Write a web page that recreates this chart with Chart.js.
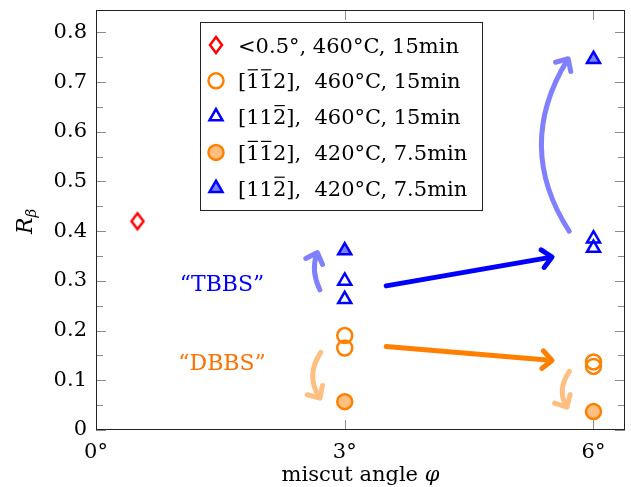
<!DOCTYPE html>
<html>
<head>
<meta charset="utf-8">
<script src="https://cdn.jsdelivr.net/npm/chart.js@4.4.0/dist/chart.umd.min.js"></script>
<style>
  html, body { margin: 0; padding: 0; background: #fff; }
  #wrap { width: 631px; height: 487px; }
</style>
</head>
<body>
<div id="wrap"><canvas id="rbetaChart" width="631" height="487"></canvas></div>
<script>
// miscut angle (deg) / R_beta for each sample set
const flatX = [0.5];
const flatY = [0.42];
const dbbs460X = [3, 3, 6, 6];
const dbbs460Y = [0.19, 0.165, 0.137, 0.128];
const tbbs460X = [3, 3, 6, 6];
const tbbs460Y = [0.3, 0.263, 0.385, 0.366];
const dbbs420X = [3, 6];
const dbbs420Y = [0.057, 0.037];
const tbbs420X = [3, 6];
const tbbs420Y = [0.361, 0.746];

const xTicks = [0, 3, 6];
const yTicks = [0, 0.1, 0.2, 0.3, 0.4, 0.5, 0.6, 0.7, 0.8];
const yMinorTicks = [0.05, 0.15, 0.25, 0.35, 0.45, 0.55, 0.65, 0.75];

// legend rows: pieces of text, "o" = overlined
const legendRows = [
  [{ t: "<0.5°, 460°C, 15min" }],
  [{ t: "[" }, { t: "1", o: true }, { t: "1", o: true }, { t: "2],  460°C, 15min" }],
  [{ t: "[11" }, { t: "2", o: true }, { t: "],  460°C, 15min" }],
  [{ t: "[" }, { t: "1", o: true }, { t: "1", o: true }, { t: "2],  420°C, 7.5min" }],
  [{ t: "[11" }, { t: "2", o: true }, { t: "],  420°C, 7.5min" }],
];

// arrows in data units: from, optional bend control, to
const arrowPaths = [
  { from: [3.5, 0.29], to: [5.5, 0.348], color: "#0000ff" },
  { from: [3.5, 0.168], to: [5.5, 0.14], color: "#ff8000" },
  { from: [2.7, 0.282], ctrl: [2.59, 0.32], to: [2.67, 0.357], color: "#8080ff" },
  { from: [2.71, 0.156], ctrl: [2.53, 0.11], to: [2.7, 0.064], color: "#ffbf80" },
  { from: [5.706, 0.4], ctrl: [5.05, 0.57], to: [5.694, 0.747], color: "#8080ff" },
  { from: [5.71, 0.118], ctrl: [5.56, 0.082], to: [5.68, 0.046], color: "#ffbf80" },
];
const noteLabels = [
  { text: "“TBBS”", at: [1.52, 0.279], color: "#0000ff" },
  { text: "“DBBS”", at: [1.52, 0.12], color: "#ff7000" },
];

const SERIF = "'DejaVu Serif', 'Liberation Serif', serif";

// tall red diamond marker
function makeDiamond() {
  const c = document.createElement("canvas");
  c.width = 18;
  c.height = 22;
  const g = c.getContext("2d");
  g.strokeStyle = "#ff0000";
  g.lineWidth = 2.5;
  g.beginPath();
  g.moveTo(9, 3);
  g.lineTo(15, 11);
  g.lineTo(9, 19);
  g.lineTo(3, 11);
  g.closePath();
  g.stroke();
  return c;
}
const diamond = makeDiamond();

function pts(xs, ys) {
  return xs.map((x, i) => ({ x: x, y: ys[i] }));
}

const markerStyles = [
  { pointStyle: diamond, radius: 8, borderWidth: 0, borderColor: "#ff0000", backgroundColor: "rgba(0,0,0,0)" },
  { pointStyle: "circle", radius: 7.5, borderWidth: 2.5, borderColor: "#ff8000", backgroundColor: "rgba(0,0,0,0)" },
  { pointStyle: "triangle", radius: 7.5, borderWidth: 2.5, borderColor: "#0000ff", backgroundColor: "rgba(0,0,0,0)" },
  { pointStyle: "circle", radius: 7.5, borderWidth: 2.5, borderColor: "#ff8000", backgroundColor: "#ffbf80" },
  { pointStyle: "triangle", radius: 7.5, borderWidth: 2.5, borderColor: "#0000ff", backgroundColor: "#8080ff" },
];

function dataset(data, m) {
  return {
    data: data,
    showLine: false,
    pointStyle: m.pointStyle,
    pointRadius: m.radius,
    pointBorderWidth: m.borderWidth,
    pointBorderColor: m.borderColor,
    pointBackgroundColor: m.backgroundColor,
  };
}

function drawArrow(ctx, p0, c, p1, color) {
  const lw = 5;
  const ref = c || p0;
  const ang = Math.atan2(p1.y - ref.y, p1.x - ref.x);
  ctx.save();
  ctx.strokeStyle = color;
  ctx.lineWidth = lw;
  ctx.lineCap = "round";
  ctx.lineJoin = "round";
  const ex = p1.x - Math.cos(ang) * 2;
  const ey = p1.y - Math.sin(ang) * 2;
  ctx.beginPath();
  ctx.moveTo(p0.x, p0.y);
  if (c) ctx.quadraticCurveTo(c.x, c.y, ex, ey);
  else ctx.lineTo(ex, ey);
  ctx.stroke();
  const L = 13, spread = 0.75;
  ctx.beginPath();
  ctx.moveTo(p1.x - L * Math.cos(ang - spread), p1.y - L * Math.sin(ang - spread));
  ctx.lineTo(p1.x, p1.y);
  ctx.lineTo(p1.x - L * Math.cos(ang + spread), p1.y - L * Math.sin(ang + spread));
  ctx.stroke();
  ctx.restore();
}

const framePlugin = {
  id: "frame",
  beforeDatasetsDraw(chart) {
    const { ctx, chartArea: a, scales } = chart;
    ctx.save();
    // inward ticks
    ctx.strokeStyle = "#8c8c8c";
    ctx.lineWidth = 1;
    ctx.beginPath();
    yTicks.forEach((v) => {
      const y = Math.round(scales.y.getPixelForValue(v)) + 0.5;
      ctx.moveTo(a.left, y); ctx.lineTo(a.left + 10, y);
      ctx.moveTo(a.right, y); ctx.lineTo(a.right - 10, y);
    });
    yMinorTicks.forEach((v) => {
      const y = Math.round(scales.y.getPixelForValue(v)) + 0.5;
      ctx.moveTo(a.left, y); ctx.lineTo(a.left + 7, y);
      ctx.moveTo(a.right, y); ctx.lineTo(a.right - 7, y);
    });
    xTicks.forEach((v) => {
      const x = Math.round(scales.x.getPixelForValue(v)) + 0.5;
      ctx.moveTo(x, a.bottom); ctx.lineTo(x, a.bottom - 10);
      ctx.moveTo(x, a.top); ctx.lineTo(x, a.top + 10);
    });
    ctx.stroke();
    // axis box
    ctx.strokeStyle = "#222";
    ctx.strokeRect(a.left + 0.5, a.top + 0.5, a.right - a.left - 1, a.bottom - a.top - 1);

    // annotation arrows and labels
    const px = (p) => ({ x: scales.x.getPixelForValue(p[0]), y: scales.y.getPixelForValue(p[1]) });
    arrowPaths.forEach((ar) => {
      drawArrow(ctx, px(ar.from), ar.ctrl ? px(ar.ctrl) : null, px(ar.to), ar.color);
    });
    ctx.font = "22px " + SERIF;
    ctx.textAlign = "center";
    ctx.textBaseline = "alphabetic";
    noteLabels.forEach((n) => {
      const p = px(n.at);
      ctx.fillStyle = n.color;
      ctx.fillText(n.text, p.x, p.y);
    });

    // axis titles
    ctx.fillStyle = "#000";
    ctx.textAlign = "left";
    const t1 = "miscut angle ";
    ctx.font = "21px " + SERIF;
    const w1 = ctx.measureText(t1).width;
    ctx.font = "italic 21px " + SERIF;
    const w2 = ctx.measureText("φ").width;
    const cx = (a.left + a.right) / 2;
    const x0 = cx - (w1 + w2) / 2;
    ctx.font = "21px " + SERIF;
    ctx.fillText(t1, x0, 481);
    ctx.font = "italic 21px " + SERIF;
    ctx.fillText("φ", x0 + w1, 481);

    ctx.save();
    ctx.translate(32, 234);
    ctx.rotate(-Math.PI / 2);
    ctx.font = "italic 22px " + SERIF;
    ctx.fillText("R", 0, 0);
    const wr = ctx.measureText("R").width;
    ctx.font = "italic 15px " + SERIF;
    ctx.fillText("β", wr, 4);
    ctx.restore();
    ctx.restore();
  },
};

const legendPlugin = {
  id: "boxLegend",
  afterDraw(chart) {
    const ctx = chart.ctx;
    const box = { x: 200, y: 22, w: 283, h: 189 };
    ctx.save();
    ctx.fillStyle = "#fff";
    ctx.fillRect(box.x, box.y, box.w, box.h);
    ctx.strokeStyle = "#222";
    ctx.lineWidth = 1;
    ctx.strokeRect(box.x + 0.5, box.y + 0.5, box.w - 1, box.h - 1);
    legendRows.forEach((row, i) => {
      const cy = 45 + i * 35.8;
      const m = markerStyles[i];
      ctx.fillStyle = m.backgroundColor;
      ctx.strokeStyle = m.borderColor;
      ctx.lineWidth = m.borderWidth;
      Chart.helpers.drawPoint(ctx, {
        pointStyle: m.pointStyle,
        radius: m.radius,
        rotation: 0,
        borderWidth: m.borderWidth,
      }, 216, cy);
      ctx.fillStyle = "#000";
      ctx.strokeStyle = "#000";
      ctx.lineWidth = 1.2;
      ctx.font = "21px " + SERIF;
      ctx.textAlign = "left";
      ctx.textBaseline = "alphabetic";
      let x = 238;
      const base = cy + 7.5;
      row.forEach((seg) => {
        const w = ctx.measureText(seg.t).width;
        ctx.fillText(seg.t, x, base);
        if (seg.o) {
          ctx.beginPath();
          ctx.moveTo(x + 1.5, base - 18.5);
          ctx.lineTo(x + w - 1.5, base - 18.5);
          ctx.stroke();
        }
        x += w;
      });
    });
    ctx.restore();
  },
};

Chart.defaults.font.family = SERIF;
Chart.defaults.font.size = 21;
Chart.defaults.color = "#000";

new Chart(document.getElementById("rbetaChart").getContext("2d"), {
  type: "scatter",
  data: {
    datasets: [
      dataset(pts(flatX, flatY), markerStyles[0]),
      dataset(pts(dbbs460X, dbbs460Y), markerStyles[1]),
      dataset(pts(tbbs460X, tbbs460Y), markerStyles[2]),
      dataset(pts(dbbs420X, dbbs420Y), markerStyles[3]),
      dataset(pts(tbbs420X, tbbs420Y), markerStyles[4]),
    ],
  },
  options: {
    responsive: false,
    animation: false,
    events: [],
    // markers would otherwise push the plot area in by their size
    layout: { autoPadding: false, padding: { top: 10, right: 6, left: 0, bottom: 0 } },
    plugins: {
      legend: { display: false },
      tooltip: { enabled: false },
    },
    scales: {
      x: {
        type: "linear",
        min: 0,
        max: 6.38,
        grid: { display: false, drawTicks: false },
        border: { display: false },
        ticks: { padding: 10, maxRotation: 0, autoSkip: false, callback: (v) => v + "°" },
        afterBuildTicks: (scale) => {
          scale.ticks = xTicks.map((v) => ({ value: v }));
        },
        afterFit: (scale) => {
          scale.height = 57;
          scale.paddingLeft = 0;
          scale.paddingRight = 0;
        },
      },
      y: {
        type: "linear",
        min: 0,
        max: 0.845,
        grid: { display: false, drawTicks: false },
        border: { display: false },
        ticks: { padding: 9, autoSkip: false, callback: (v) => (v === 0 ? "0" : v.toFixed(1)) },
        afterBuildTicks: (scale) => {
          scale.ticks = yTicks.map((v) => ({ value: v }));
        },
        afterFit: (scale) => {
          scale.width = 96;
          scale.paddingTop = 0;
          scale.paddingBottom = 0;
        },
      },
    },
  },
  plugins: [framePlugin, legendPlugin],
});
</script>
</body>
</html>
